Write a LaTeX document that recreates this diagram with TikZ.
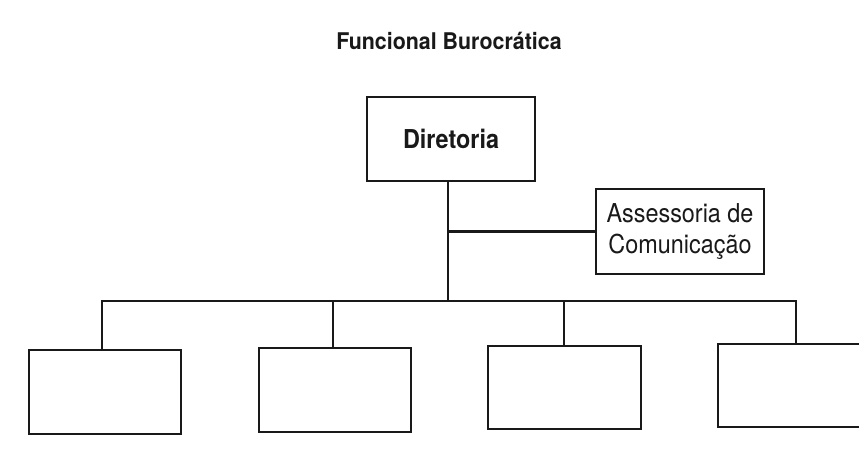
\documentclass[tikz,border=0pt]{standalone}
\usepackage{fontspec}
\newfontfamily\orgfont[FakeStretch=0.9]{TeX Gyre Heros}
\newfontfamily\orgtitlefont[FakeStretch=0.93]{TeX Gyre Heros}
\begin{document}
\begin{tikzpicture}[x=1pt,y=-1pt,
  box/.style={draw=black!90, line width=2.8pt, rectangle, inner sep=0pt},
  link/.style={draw=black!90, line width=2.8pt},
  lbl/.style={text=black!90}]
\clip (0,0) rectangle (859,448);
\fill[white] (0,0) rectangle (859,448);
\node[lbl, anchor=base, font=\orgtitlefont\fontsize{23}{27}\selectfont\bfseries] (title) at (449,49.3)
  {Funcional Burocrática};
\node[box, lbl, minimum width=168pt, minimum height=84pt, font=\orgfont\fontsize{26}{30}\selectfont\bfseries] (dir) at (451,139)
  {Diretoria};
\node[box, lbl, minimum width=168pt, minimum height=85pt, align=center, font=\orgfont\fontsize{26}{31}\selectfont] (asc) at (680,231.5)
  {Assessoria de\\Comunicação};
\node[box, minimum width=152pt, minimum height=84pt] (b1) at (105,392) {};
\node[box, minimum width=152pt, minimum height=84pt] (b2) at (335,390) {};
\node[box, minimum width=153pt, minimum height=83pt] (b3) at (564.5,387.5) {};
\node[box, minimum width=152pt, minimum height=83pt] (b4) at (794,385.5) {};
\coordinate (stem) at (448,301);
\coordinate (d1) at (102,301);
\coordinate (d2) at (333,301);
\coordinate (d3) at (564,301);
\coordinate (d4) at (796,301);
\draw[link] (dir.south -| stem) -- (stem);
\draw[link] (asc.west -| stem) -- (asc.west);
\draw[link, line cap=rect] (d1) -- (d4);
\draw[link] (d1) -- (d1 |- b1.north);
\draw[link] (d2) -- (d2 |- b2.north);
\draw[link] (d3) -- (d3 |- b3.north);
\draw[link] (d4) -- (d4 |- b4.north);
\end{tikzpicture}
\end{document}
